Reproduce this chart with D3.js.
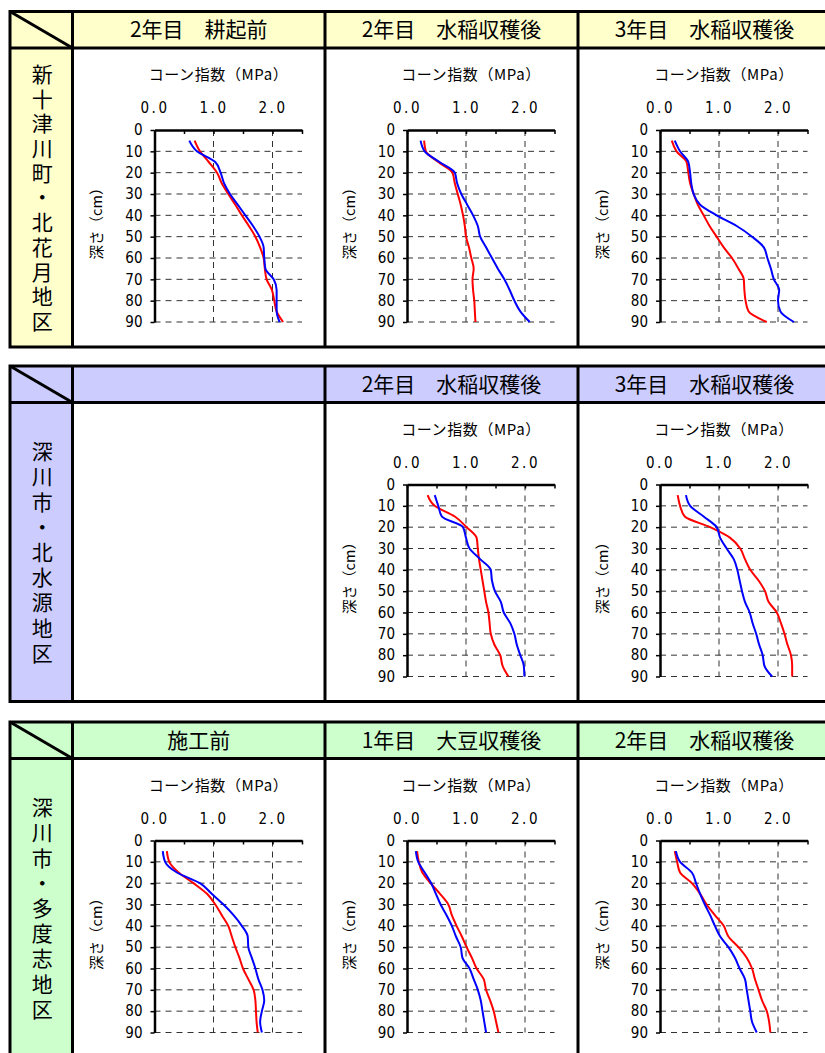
<!DOCTYPE html>
<html>
<head>
<meta charset="utf-8">
<script src="https://cdn.jsdelivr.net/npm/d3@7"></script>
<style>
  body { margin: 0; background: #fff; }
  svg { display: block; }
</style>
</head>
<body>
<script>
// depth (cm) of every reading
const depths = [5, 10, 15, 20, 25, 30, 35, 40, 45, 50, 55, 60, 65, 70, 75, 80, 85, 90];
const yTicks = [0, 10, 20, 30, 40, 50, 60, 70, 80, 90];
const xTicks = [0, 0.5, 1, 1.5, 2, 2.5];
const xTickLabels = ['0.0', '1.0', '2.0'];

const areaNames = ['新十津川町・北花月地区', '深川市・北水源地区', '深川市・多度志地区'];
const areaColors = ['#ffffcc', '#ccccff', '#ccffcc'];
const panelTitles = [
  ['2年目　耕起前', '2年目　水稲収穫後', '3年目　水稲収穫後'],
  ['', '2年目　水稲収穫後', '3年目　水稲収穫後'],
  ['施工前', '1年目　大豆収穫後', '2年目　水稲収穫後'],
];

// cone index (MPa), red / blue series
const hanazuki2yTillRed = [0.68, 0.77, 0.92, 1.06, 1.14, 1.25, 1.37, 1.48, 1.60, 1.71, 1.79, 1.85, 1.87, 1.90, 1.99, 2.03, 2.07, 2.18];
const hanazuki2yTillBlue = [0.59, 0.72, 1.03, 1.12, 1.18, 1.28, 1.41, 1.54, 1.67, 1.78, 1.85, 1.86, 1.88, 2.02, 2.07, 2.07, 2.07, 2.12];
const hanazuki2yRiceRed = [0.29, 0.32, 0.53, 0.77, 0.81, 0.86, 0.91, 0.95, 0.98, 1.00, 1.05, 1.09, 1.13, 1.11, 1.12, 1.14, 1.15, 1.16];
const hanazuki2yRiceBlue = [0.23, 0.30, 0.55, 0.81, 0.85, 0.92, 1.02, 1.12, 1.20, 1.24, 1.34, 1.44, 1.54, 1.65, 1.74, 1.82, 1.92, 2.08];
const hanazuki3yRiceRed = [0.20, 0.28, 0.45, 0.48, 0.51, 0.57, 0.64, 0.74, 0.84, 0.96, 1.08, 1.22, 1.33, 1.42, 1.43, 1.45, 1.50, 1.81];
const hanazuki3yRiceBlue = [0.25, 0.34, 0.48, 0.51, 0.53, 0.57, 0.68, 0.96, 1.30, 1.56, 1.76, 1.82, 1.88, 1.93, 2.02, 2.00, 2.04, 2.27];

const kitamizu2yRiceRed = [0.35, 0.47, 0.81, 1.01, 1.18, 1.20, 1.22, 1.25, 1.28, 1.31, 1.34, 1.38, 1.40, 1.42, 1.48, 1.58, 1.62, 1.72];
const kitamizu2yRiceBlue = [0.47, 0.53, 0.59, 0.95, 1.00, 1.06, 1.24, 1.42, 1.44, 1.49, 1.59, 1.64, 1.75, 1.82, 1.86, 1.92, 1.98, 1.99];
const kitamizu3yRiceRed = [0.30, 0.34, 0.42, 0.85, 1.19, 1.36, 1.44, 1.53, 1.67, 1.78, 1.84, 1.98, 2.05, 2.11, 2.16, 2.22, 2.24, 2.24];
const kitamizu3yRiceBlue = [0.44, 0.51, 0.74, 0.96, 1.02, 1.13, 1.25, 1.31, 1.35, 1.39, 1.44, 1.52, 1.57, 1.63, 1.68, 1.74, 1.77, 1.90];

const tadoshiBeforeRed = [0.21, 0.25, 0.41, 0.66, 0.89, 1.03, 1.14, 1.25, 1.31, 1.37, 1.44, 1.50, 1.59, 1.68, 1.71, 1.72, 1.73, 1.75];
const tadoshiBeforeBlue = [0.14, 0.18, 0.38, 0.77, 0.97, 1.17, 1.34, 1.48, 1.58, 1.59, 1.65, 1.71, 1.76, 1.83, 1.86, 1.82, 1.79, 1.82];
const tadoshi1ySoyRed = [0.17, 0.20, 0.26, 0.40, 0.56, 0.70, 0.76, 0.84, 0.93, 1.01, 1.10, 1.18, 1.30, 1.34, 1.41, 1.47, 1.51, 1.55];
const tadoshi1ySoyBlue = [0.15, 0.19, 0.30, 0.41, 0.49, 0.57, 0.67, 0.76, 0.83, 0.91, 0.94, 1.06, 1.13, 1.20, 1.25, 1.28, 1.31, 1.34];
const tadoshi2yRiceRed = [0.25, 0.29, 0.34, 0.54, 0.68, 0.79, 0.93, 1.08, 1.16, 1.33, 1.47, 1.56, 1.61, 1.67, 1.73, 1.81, 1.85, 1.87];
const tadoshi2yRiceBlue = [0.27, 0.34, 0.54, 0.61, 0.68, 0.76, 0.85, 0.93, 1.02, 1.16, 1.27, 1.35, 1.44, 1.47, 1.50, 1.53, 1.56, 1.64];

// [section][column] -> [red, blue] or null
const panelSeries = [
  [[hanazuki2yTillRed, hanazuki2yTillBlue], [hanazuki2yRiceRed, hanazuki2yRiceBlue], [hanazuki3yRiceRed, hanazuki3yRiceBlue]],
  [null, [kitamizu2yRiceRed, kitamizu2yRiceBlue], [kitamizu3yRiceRed, kitamizu3yRiceBlue]],
  [[tadoshiBeforeRed, tadoshiBeforeBlue], [tadoshi1ySoyRed, tadoshi1ySoyBlue], [tadoshi2yRiceRed, tadoshi2yRiceBlue]],
];

const width = 825;
const height = 1053;
const colX = [10, 72.5, 325, 578, 831];
const sectionTop = [11.5, 366, 722];
const headerH = 36.5;
const sectionH = 335.5;
const jp = '"Noto Sans CJK JP", sans-serif';
const num = '"DejaVu Sans Condensed", "DejaVu Sans", sans-serif';

const svg = d3.select('body').append('svg')
  .attr('width', width)
  .attr('height', height)
  .attr('viewBox', `0 0 ${width} ${height}`);

const x = d3.scaleLinear().domain([0, 2.5]).range([0, 147.5]);
const y = d3.scaleLinear().domain([0, 90]).range([0, 192]);

const line = d3.line()
  .x(d => x(d[1]))
  .y(d => y(d[0]))
  .curve(d3.curveMonotoneY);

sectionTop.forEach((top, s) => {
  const g = svg.append('g');
  const hb = top + headerH;
  const bottom = top + sectionH;

  // fills
  g.append('rect')
    .attr('x', colX[0]).attr('y', top)
    .attr('width', colX[4] - colX[0]).attr('height', headerH)
    .attr('fill', areaColors[s]);
  g.append('rect')
    .attr('x', colX[0]).attr('y', hb)
    .attr('width', colX[1] - colX[0]).attr('height', sectionH - headerH)
    .attr('fill', areaColors[s]);

  // panels
  for (let c = 0; c < 3; c++) {
    const left = colX[c + 1];
    const mid = (colX[c + 1] + colX[c + 2]) / 2;
    g.append('text')
      .attr('x', mid).attr('y', top + headerH / 2)
      .attr('dy', '0.36em')
      .attr('text-anchor', 'middle')
      .style('font-family', jp)
      .style('font-size', '21px')
      .text(panelTitles[s][c]);

    const series = panelSeries[s][c];
    if (!series) continue;

    const p = g.append('g').attr('transform', `translate(${left + 82},${hb + 82})`);

    p.append('text')
      .attr('x', 64).attr('y', -55)
      .attr('dy', '0.36em')
      .attr('text-anchor', 'middle')
      .style('font-family', jp)
      .style('font-size', '15px')
      .style('letter-spacing', '0.6px')
      .text('コーン指数（MPa）');

    p.append('text')
      .attr('transform', `translate(${-57.5},${90}) rotate(-90)`)
      .attr('dy', '0.36em')
      .attr('text-anchor', 'middle')
      .style('font-family', jp)
      .style('font-size', '14.5px')
      .text('深さ（cm）');

    // grid
    p.append('g').selectAll('line')
      .data(yTicks.slice(1))
      .join('line')
      .attr('x1', 0).attr('x2', x(2.5))
      .attr('y1', d => y(d)).attr('y2', d => y(d))
      .attr('stroke', '#333').attr('stroke-width', 1)
      .attr('stroke-dasharray', '6,5');
    p.append('g').selectAll('line')
      .data([1, 2])
      .join('line')
      .attr('x1', d => x(d)).attr('x2', d => x(d))
      .attr('y1', 0).attr('y2', y(90))
      .attr('stroke', '#333').attr('stroke-width', 1)
      .attr('stroke-dasharray', '6,5');

    const xAxis = p.append('g')
      .call(d3.axisTop(x)
        .tickValues(xTicks)
        .tickSizeInner(-4)
        .tickSizeOuter(0)
        .tickPadding(17)
        .tickFormat(d => (Number.isInteger(d) ? xTickLabels[d] : '')));
    xAxis.select('.domain').attr('stroke-width', 2.5);
    xAxis.selectAll('.tick line').attr('stroke-width', 1.5);
    xAxis.selectAll('text')
      .style('font-family', num)
      .style('font-size', '15px')
      .style('letter-spacing', '2.5px')
      .attr('fill', '#000');

    const yAxis = p.append('g')
      .call(d3.axisLeft(y)
        .tickValues(yTicks)
        .tickSize(4)
        .tickSizeOuter(0)
        .tickPadding(8));
    yAxis.select('.domain').attr('stroke-width', 2.5);
    yAxis.selectAll('.tick line').attr('stroke-width', 1.5);
    yAxis.selectAll('text')
      .style('font-family', num)
      .style('font-size', '15px')
      .attr('fill', '#000');

    ['#ff0000', '#0000ff'].forEach((col, i) => {
      p.append('path')
        .datum(depths.map((d, k) => [d, series[i][k]]))
        .attr('d', line)
        .attr('fill', 'none')
        .attr('stroke', col)
        .attr('stroke-width', 2);
    });
  }

  // area name, written vertically
  const step = s === 0 ? 24.7 : 25.2;
  g.append('text')
    .attr('x', (colX[0] + colX[1]) / 2 + 1)
    .attr('y', (hb + bottom) / 2 + (step - 21) / 2)
    .attr('writing-mode', 'vertical-rl')
    .attr('text-anchor', 'middle')
    .style('font-family', jp)
    .style('font-size', '21px')
    .style('letter-spacing', `${step - 21}px`)
    .text(areaNames[s]);

  // borders
  const b = g.append('g').attr('stroke', '#000').attr('stroke-width', 3).attr('fill', 'none');
  b.append('rect')
    .attr('x', colX[0]).attr('y', top)
    .attr('width', colX[4] - colX[0]).attr('height', sectionH);
  b.append('line')
    .attr('x1', colX[0]).attr('x2', colX[4])
    .attr('y1', hb).attr('y2', hb);
  colX.slice(1, 4).forEach(cx => {
    b.append('line')
      .attr('x1', cx).attr('x2', cx)
      .attr('y1', top).attr('y2', bottom);
  });
  b.append('line')
    .attr('x1', colX[0]).attr('y1', top)
    .attr('x2', colX[1]).attr('y2', hb);
});
</script>
</body>
</html>
